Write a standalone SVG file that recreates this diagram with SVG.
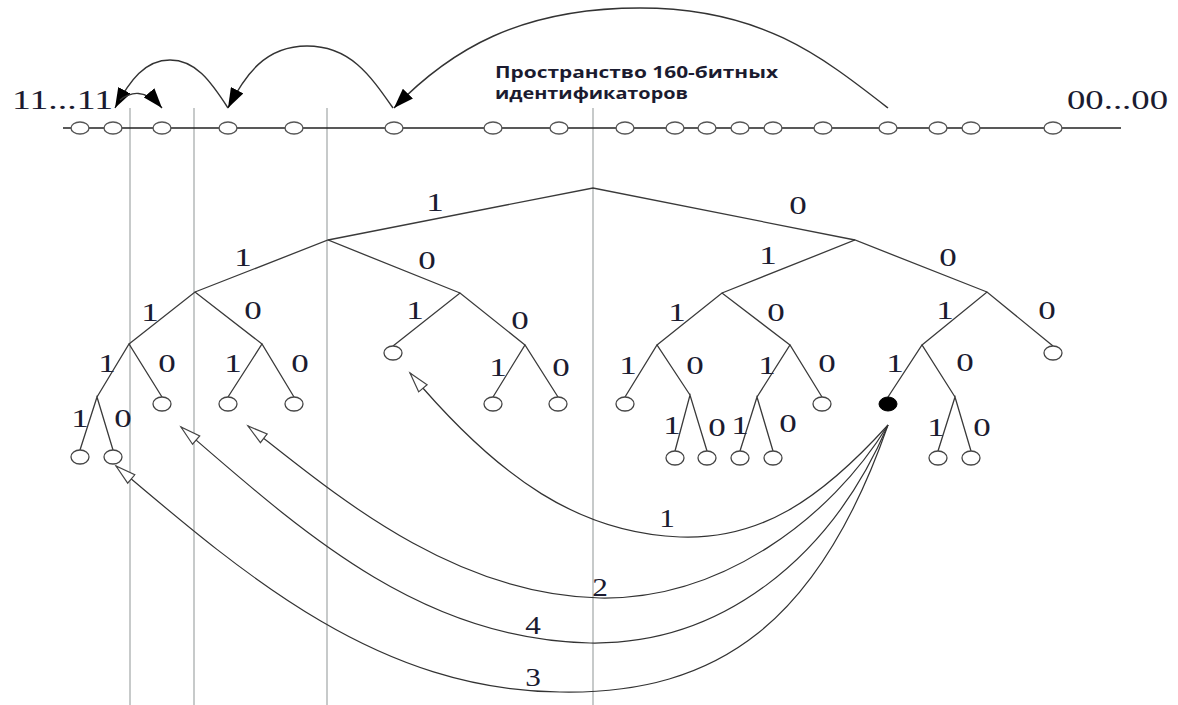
<svg xmlns="http://www.w3.org/2000/svg" width="1178" height="705" viewBox="0 0 1178 705">
<style>
.bg{fill:#fff}
.vl{stroke:#b4b8b8;stroke-width:1.5;fill:none}
.axis{stroke:#222;stroke-width:1.6;fill:none}
.idn{fill:#fff;stroke:#555;stroke-width:1.4}
.e{stroke:#3a3a3a;stroke-width:1.3;fill:none}
.leaf{fill:#fff;stroke:#444;stroke-width:1.3}
.blk{fill:#000;stroke:#000}
.lbl{font-family:"Liberation Serif",serif;font-size:25px;fill:#1b1b30;text-anchor:middle}
.big{font-family:"Liberation Serif",serif;font-size:28px;fill:#1b1b30}
.title{font-family:"Open Sans","Noto Sans",sans-serif;font-weight:bold;font-size:15.5px;fill:#1b1b30}
.top{stroke:#333;stroke-width:1.4;fill:none}
.cur{stroke:#333;stroke-width:1.2;fill:none}
</style>
<defs>
<marker id="fa" markerUnits="userSpaceOnUse" markerWidth="22" markerHeight="14" refX="20" refY="7" orient="auto">
<path d="M0,0 L20,7 L0,14 Z" fill="#000"/>
</marker>
<marker id="ha" markerUnits="userSpaceOnUse" markerWidth="24" markerHeight="14" refX="21" refY="7" orient="auto">
<path d="M1,1.5 L21,7 L1,12.5 Z" fill="#fff" stroke="#444" stroke-width="1.2"/>
</marker>
</defs>
<rect class="bg" width="1178" height="705"/>

<g id="guides">
<line class="vl" x1="130" y1="108" x2="130" y2="705"/>
<line class="vl" x1="194" y1="108" x2="194" y2="705"/>
<line class="vl" x1="327" y1="108" x2="327" y2="705"/>
<line class="vl" x1="593" y1="108" x2="593" y2="705"/>
</g>

<g id="id-space">
<line class="axis" x1="63" y1="128" x2="1121" y2="128"/>
<ellipse class="idn" cx="80" cy="128" rx="9" ry="6"/>
<ellipse class="idn" cx="113" cy="128" rx="9" ry="6"/>
<ellipse class="idn" cx="162" cy="128" rx="9" ry="6"/>
<ellipse class="idn" cx="228" cy="128" rx="9" ry="6"/>
<ellipse class="idn" cx="294" cy="128" rx="9" ry="6"/>
<ellipse class="idn" cx="394" cy="128" rx="9" ry="6"/>
<ellipse class="idn" cx="493" cy="128" rx="9" ry="6"/>
<ellipse class="idn" cx="559" cy="128" rx="9" ry="6"/>
<ellipse class="idn" cx="625" cy="128" rx="9" ry="6"/>
<ellipse class="idn" cx="675" cy="128" rx="9" ry="6"/>
<ellipse class="idn" cx="707" cy="128" rx="9" ry="6"/>
<ellipse class="idn" cx="740" cy="128" rx="9" ry="6"/>
<ellipse class="idn" cx="773" cy="128" rx="9" ry="6"/>
<ellipse class="idn" cx="823" cy="128" rx="9" ry="6"/>
<ellipse class="idn" cx="888" cy="128" rx="9" ry="6"/>
<ellipse class="idn" cx="938" cy="128" rx="9" ry="6"/>
<ellipse class="idn" cx="971" cy="128" rx="9" ry="6"/>
<ellipse class="idn" cx="1053" cy="128" rx="9" ry="6"/>
<text class="big" x="12" y="109" textLength="101" lengthAdjust="spacingAndGlyphs">11...11</text>
<text class="big" x="1067" y="109" textLength="101" lengthAdjust="spacingAndGlyphs">00...00</text>
<text class="title" x="495" y="78" textLength="283" lengthAdjust="spacingAndGlyphs">Пространство 160-битных</text>
<text class="title" x="495" y="99" textLength="193" lengthAdjust="spacingAndGlyphs">идентификаторов</text>
</g>

<g id="lookup-jumps">
<path class="top" d="M888,108 C820,55 760,8 640,8 C520,8 450,50 394,108" marker-end="url(#fa)"/>
<path class="top" d="M393,108 C370,75 350,46 307,46 C265,46 245,75 228,108" marker-end="url(#fa)"/>
<path class="top" d="M228,108 C210,80 195,60 170,60 C145,60 130,80 115,108" marker-end="url(#fa)"/>
<path class="top" d="M120,100 C130,92 145,88 162,108" marker-end="url(#fa)"/>
</g>

<g id="tree-edges">
<path class="e" d="M328,240 L593,188 L855,240"/>
<path class="e" d="M195,292 L328,240 L460,293"/>
<path class="e" d="M722,293 L855,240 L987,292"/>
<path class="e" d="M129,344 L195,292 L262,344"/>
<path class="e" d="M393,346 L460,293 L525,345"/>
<path class="e" d="M657,345 L722,293 L790,345"/>
<path class="e" d="M922,345 L987,292 L1053,346"/>
<path class="e" d="M97,397 L129,344 L162,397"/>
<path class="e" d="M228,397 L262,344 L294,397"/>
<path class="e" d="M493,397 L525,345 L558,397"/>
<path class="e" d="M625,397 L657,345 L690,395"/>
<path class="e" d="M757,397 L790,345 L822,397"/>
<path class="e" d="M888,397 L922,345 L955,397"/>
<path class="e" d="M80,450 L97,397 L113,450"/>
<path class="e" d="M675,451 L690,395 L707,451"/>
<path class="e" d="M740,451 L757,397 L773,451"/>
<path class="e" d="M938,451 L955,397 L971,451"/>
</g>

<g id="tree-leaves">
<ellipse id="n-1111" class="leaf" cx="80" cy="457" rx="9" ry="7"/>
<ellipse id="n-1110" class="leaf" cx="113" cy="457" rx="9" ry="7"/>
<ellipse id="n-110" class="leaf" cx="162" cy="404" rx="9" ry="7"/>
<ellipse id="n-101" class="leaf" cx="228" cy="404" rx="9" ry="7"/>
<ellipse id="n-100" class="leaf" cx="294" cy="404" rx="9" ry="7"/>
<ellipse id="n-01" class="leaf" cx="393" cy="353" rx="9" ry="7"/>
<ellipse id="n-001" class="leaf" cx="493" cy="404" rx="9" ry="7"/>
<ellipse id="n-000" class="leaf" cx="558" cy="404" rx="9" ry="7"/>
<ellipse id="n-111r" class="leaf" cx="625" cy="404" rx="9" ry="7"/>
<ellipse id="n-1101r" class="leaf" cx="675" cy="458" rx="9" ry="7"/>
<ellipse id="n-1100r" class="leaf" cx="707" cy="458" rx="9" ry="7"/>
<ellipse id="n-1011r" class="leaf" cx="740" cy="458" rx="9" ry="7"/>
<ellipse id="n-1010r" class="leaf" cx="773" cy="458" rx="9" ry="7"/>
<ellipse id="n-100r" class="leaf" cx="822" cy="404" rx="9" ry="7"/>
<ellipse id="n-self" class="blk" cx="888" cy="404" rx="9" ry="7"/>
<ellipse id="n-0101" class="leaf" cx="938" cy="458" rx="9" ry="7"/>
<ellipse id="n-0100" class="leaf" cx="971" cy="458" rx="9" ry="7"/>
<ellipse id="n-00" class="leaf" cx="1053" cy="353" rx="9" ry="7"/>
</g>

<g id="edge-labels">
<text class="lbl" transform="translate(435,211) scale(1.4,1)">1</text>
<text class="lbl" transform="translate(798,214) scale(1.4,1)">0</text>
<text class="lbl" transform="translate(243,266) scale(1.4,1)">1</text>
<text class="lbl" transform="translate(427,269) scale(1.4,1)">0</text>
<text class="lbl" transform="translate(768,264) scale(1.4,1)">1</text>
<text class="lbl" transform="translate(948,266) scale(1.4,1)">0</text>
<text class="lbl" transform="translate(150,321) scale(1.4,1)">1</text>
<text class="lbl" transform="translate(253,319) scale(1.4,1)">0</text>
<text class="lbl" transform="translate(415,319) scale(1.4,1)">1</text>
<text class="lbl" transform="translate(520,329) scale(1.4,1)">0</text>
<text class="lbl" transform="translate(677,321) scale(1.4,1)">1</text>
<text class="lbl" transform="translate(776,321) scale(1.4,1)">0</text>
<text class="lbl" transform="translate(945,319) scale(1.4,1)">1</text>
<text class="lbl" transform="translate(1047,319) scale(1.4,1)">0</text>
<text class="lbl" transform="translate(107,372) scale(1.4,1)">1</text>
<text class="lbl" transform="translate(167,372) scale(1.4,1)">0</text>
<text class="lbl" transform="translate(233,372) scale(1.4,1)">1</text>
<text class="lbl" transform="translate(300,372) scale(1.4,1)">0</text>
<text class="lbl" transform="translate(498,376) scale(1.4,1)">1</text>
<text class="lbl" transform="translate(561,376) scale(1.4,1)">0</text>
<text class="lbl" transform="translate(628,374) scale(1.4,1)">1</text>
<text class="lbl" transform="translate(695,374) scale(1.4,1)">0</text>
<text class="lbl" transform="translate(767,374) scale(1.4,1)">1</text>
<text class="lbl" transform="translate(827,372) scale(1.4,1)">0</text>
<text class="lbl" transform="translate(895,372) scale(1.4,1)">1</text>
<text class="lbl" transform="translate(965,371) scale(1.4,1)">0</text>
<text class="lbl" transform="translate(80,427) scale(1.4,1)">1</text>
<text class="lbl" transform="translate(123,427) scale(1.4,1)">0</text>
<text class="lbl" transform="translate(672,434) scale(1.4,1)">1</text>
<text class="lbl" transform="translate(717,436) scale(1.4,1)">0</text>
<text class="lbl" transform="translate(740,434) scale(1.4,1)">1</text>
<text class="lbl" transform="translate(788,432) scale(1.4,1)">0</text>
<text class="lbl" transform="translate(936,436) scale(1.4,1)">1</text>
<text class="lbl" transform="translate(982,436) scale(1.4,1)">0</text>
</g>

<g id="routing-connectors">
<path class="cur" d="M888,425 C820,500 760,540 680,537 C580,533 500,480 410,373" marker-end="url(#ha)"/>
<path class="cur" d="M888,425 C830,520 720,600 600,598 C450,595 330,490 248,426" marker-end="url(#ha)"/>
<path class="cur" d="M888,425 C830,560 720,645 590,643 C420,640 300,530 181,427" marker-end="url(#ha)"/>
<path class="cur" d="M888,425 C820,620 720,695 560,692 C380,690 250,580 116,466" marker-end="url(#ha)"/>
<text class="lbl" transform="translate(667,527) scale(1.25,1)">1</text>
<text class="lbl" transform="translate(600,596) scale(1.25,1)">2</text>
<text class="lbl" transform="translate(533,634) scale(1.25,1)">4</text>
<text class="lbl" transform="translate(533,686) scale(1.25,1)">3</text>
</g>
</svg>
